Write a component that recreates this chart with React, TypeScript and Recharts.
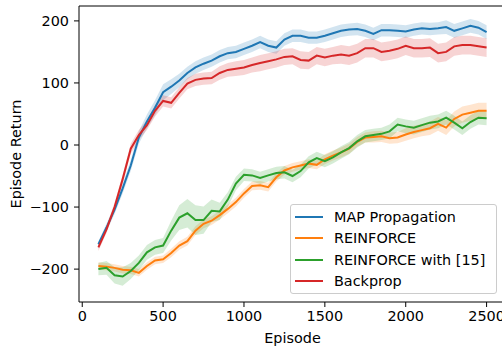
import React from 'react';
import { ComposedChart, Line, Area, XAxis, YAxis, Legend, ReferenceLine } from 'recharts';

// Training curves: mean episode return with a shaded spread band per method.
const episodes = [
  100, 150, 200, 250, 300, 350, 400, 450, 500, 550,
  600, 650, 700, 750, 800, 850, 900, 950, 1000, 1050,
  1100, 1150, 1200, 1250, 1300, 1350, 1400, 1450, 1500, 1550,
  1600, 1650, 1700, 1750, 1800, 1850, 1900, 1950, 2000, 2050,
  2100, 2150, 2200, 2250, 2300, 2350, 2400, 2450, 2500,
];

const mapMean = [
  -160, -133, -104, -70, -33, 12, 38, 60, 85, 94,
  104, 116, 125, 131, 136, 143, 148, 150, 155, 160,
  166, 160, 157, 170, 176, 176, 173, 173, 176, 180,
  184, 186, 187, 184, 179, 185, 185, 184, 183, 186,
  188, 187, 188, 190, 184, 188, 192, 189, 182,
];
const mapSpread = [
  5, 6, 7, 8, 9, 10, 11, 12, 13, 12,
  11, 10, 10, 10, 10, 10, 10, 10, 10, 10,
  10, 10, 10, 10, 10, 10, 10, 10, 10, 10,
  10, 10, 10, 10, 10, 10, 10, 10, 10, 10,
  10, 10, 10, 11, 11, 11, 11, 11, 11,
];

const reinforceMean = [
  -195, -196, -198, -201, -202, -206, -195, -186, -184, -174,
  -162, -155, -138, -127, -122, -113, -103, -92, -78, -66,
  -65, -68, -52, -41, -36, -33, -30, -32, -23, -17,
  -12, -6, 5, 12, 13, 14, 11, 12, 17, 21,
  24, 27, 34, 28, 42, 49, 52, 55, 55,
];
const reinforceSpread = [
  6, 6, 6, 6, 6, 6, 6, 6, 6, 7,
  7, 7, 7, 7, 7, 7, 7, 7, 7, 7,
  7, 7, 7, 7, 7, 7, 7, 7, 8, 8,
  8, 8, 8, 8, 9, 9, 9, 9, 10, 10,
  10, 11, 11, 12, 12, 13, 13, 13, 13,
];

const reinforce15Mean = [
  -200, -198, -210, -212, -203, -190, -173, -165, -162, -138,
  -117, -110, -121, -121, -106, -107, -88, -62, -48, -49,
  -53, -49, -45, -44, -50, -42, -28, -21, -26, -20,
  -12, -5, 6, 14, 16, 18, 22, 33, 30, 28,
  32, 36, 38, 44, 36, 27, 37, 44, 43,
];
const reinforce15Spread = [
  10, 11, 13, 15, 13, 12, 12, 12, 12, 16,
  20, 23, 24, 22, 18, 14, 12, 11, 10, 10,
  10, 10, 10, 10, 10, 10, 10, 10, 10, 10,
  10, 10, 10, 10, 10, 10, 11, 11, 11, 11,
  11, 11, 11, 11, 11, 11, 11, 11, 11,
];

const backpropMean = [
  -165, -136, -100, -55, -6, 16, 32, 55, 71, 68,
  84, 99, 105, 107, 108, 116, 121, 123, 125, 129,
  132, 135, 138, 142, 143, 137, 136, 144, 141, 144,
  146, 144, 148, 156, 156, 150, 152, 155, 160, 156,
  156, 157, 148, 150, 159, 161, 161, 159, 157,
];
const backpropSpread = [
  6, 6, 7, 7, 8, 8, 8, 9, 9, 9,
  9, 9, 10, 10, 10, 11, 11, 12, 12, 12,
  13, 13, 13, 13, 13, 14, 14, 14, 14, 14,
  15, 15, 15, 15, 15, 15, 15, 15, 15, 15,
  15, 15, 15, 15, 15, 15, 15, 15, 15,
];

const xTicks = [0, 500, 1000, 1500, 2000, 2500];
const yTicks = [-200, -100, 0, 100, 200];
const xDomain: [number, number] = [-20, 2620];
const yDomain: [number, number] = [-253, 224];

const series = [
  { key: 'map', name: 'MAP Propagation', color: '#1f77b4', mean: mapMean, spread: mapSpread },
  { key: 'reinforce', name: 'REINFORCE', color: '#ff7f0e', mean: reinforceMean, spread: reinforceSpread },
  { key: 'reinforce15', name: 'REINFORCE with [15]', color: '#2ca02c', mean: reinforce15Mean, spread: reinforce15Spread },
  { key: 'backprop', name: 'Backprop', color: '#d62728', mean: backpropMean, spread: backpropSpread },
];

const rows = episodes.map((ep, i) => {
  const row: Record<string, number | [number, number]> = { ep };
  series.forEach((s) => {
    row[s.key] = s.mean[i];
    row[s.key + 'Band'] = [s.mean[i] - s.spread[i], s.mean[i] + s.spread[i]];
  });
  return row;
});

const FONT = "'DejaVu Sans', sans-serif";
const FS = 14.4;
const minus = (v: number) => String(v).replace('-', '\u2212');
const seriesOrder = (name: string) => series.findIndex((s) => s.name === name);

const renderLegend = (props: any) => {
  const items = (props.payload || [])
    .filter((p: any) => p.type !== 'none' && seriesOrder(p.value) >= 0)
    .sort((a: any, b: any) => seriesOrder(a.value) - seriesOrder(b.value));
  return (
    <div
      style={{
        boxSizing: 'border-box',
        width: 207,
        height: 90,
        border: '1px solid #cccccc',
        borderRadius: 3,
        background: 'rgba(255,255,255,0.8)',
        padding: '1px 0 1px 4px',
        fontFamily: FONT,
        fontSize: FS,
        color: '#000',
      }}
    >
      {items.map((p: any) => (
        <div key={p.value} style={{ display: 'flex', alignItems: 'center', height: 21.5 }}>
          <div style={{ width: 28, height: 2, background: p.color, marginRight: 11, flexShrink: 0 }} />
          <span style={{ whiteSpace: 'nowrap', lineHeight: '16px' }}>{p.value}</span>
        </div>
      ))}
    </div>
  );
};

const XLabel = (props: any) => {
  const vb = props.viewBox || { x: 79, y: 302, width: 427 };
  return (
    <text x={vb.x + vb.width / 2} y={vb.y + 36} textAnchor="middle" dominantBaseline="central"
      fontFamily={FONT} fontSize={FS} fill="#000">
      Episode
    </text>
  );
};

const YLabel = (props: any) => {
  const vb = props.viewBox || { x: 0, y: 6, height: 296 };
  const cx = vb.x + 16;
  const cy = vb.y + vb.height / 2;
  return (
    <text x={cx} y={cy} transform={`rotate(-90 ${cx} ${cy})`} textAnchor="middle" dominantBaseline="central"
      fontFamily={FONT} fontSize={FS} fill="#000">
      Episode Return
    </text>
  );
};

export default function App() {
  return (
    <div style={{ position: 'absolute', left: 0, top: 0, width: 502, height: 349, overflow: 'hidden', background: '#fff' }}>
      <ComposedChart width={511} height={349} data={rows} margin={{ top: 6, right: 5, bottom: 0, left: 0 }}>
        <XAxis
          dataKey="ep"
          type="number"
          domain={xDomain}
          ticks={xTicks}
          allowDataOverflow
          height={47}
          tickSize={5}
          tickMargin={4}
          stroke="#000"
          tick={{ fill: '#000', fontSize: FS, fontFamily: FONT }}
          tickFormatter={minus}
          label={<XLabel />}
        />
        <YAxis
          type="number"
          domain={yDomain}
          ticks={yTicks}
          allowDataOverflow
          width={79}
          tickSize={5}
          tickMargin={5}
          stroke="#000"
          tick={{ fill: '#000', fontSize: FS, fontFamily: FONT }}
          tickFormatter={minus}
          label={<YLabel />}
        />
        <ReferenceLine y={yDomain[1]} stroke="#000" strokeWidth={1} />
        <ReferenceLine x={xDomain[1]} stroke="#000" strokeWidth={1} />
        {series.map((s) => (
          <Area
            key={s.key + 'Band'}
            dataKey={s.key + 'Band'}
            type="linear"
            stroke="none"
            fill={s.color}
            fillOpacity={0.2}
            legendType="none"
            isAnimationActive={false}
            activeDot={false}
          />
        ))}
        {series.map((s) => (
          <Line
            key={s.key}
            dataKey={s.key}
            name={s.name}
            type="linear"
            stroke={s.color}
            strokeWidth={2}
            dot={false}
            activeDot={false}
            isAnimationActive={false}
          />
        ))}
        <Legend
          content={renderLegend}
          itemSorter={null as any}
          layout="horizontal"
          verticalAlign="middle"
          align="center"
          wrapperStyle={{ position: 'absolute', left: 290, top: 204, width: 207, height: 90 }}
        />
      </ComposedChart>
    </div>
  );
}
